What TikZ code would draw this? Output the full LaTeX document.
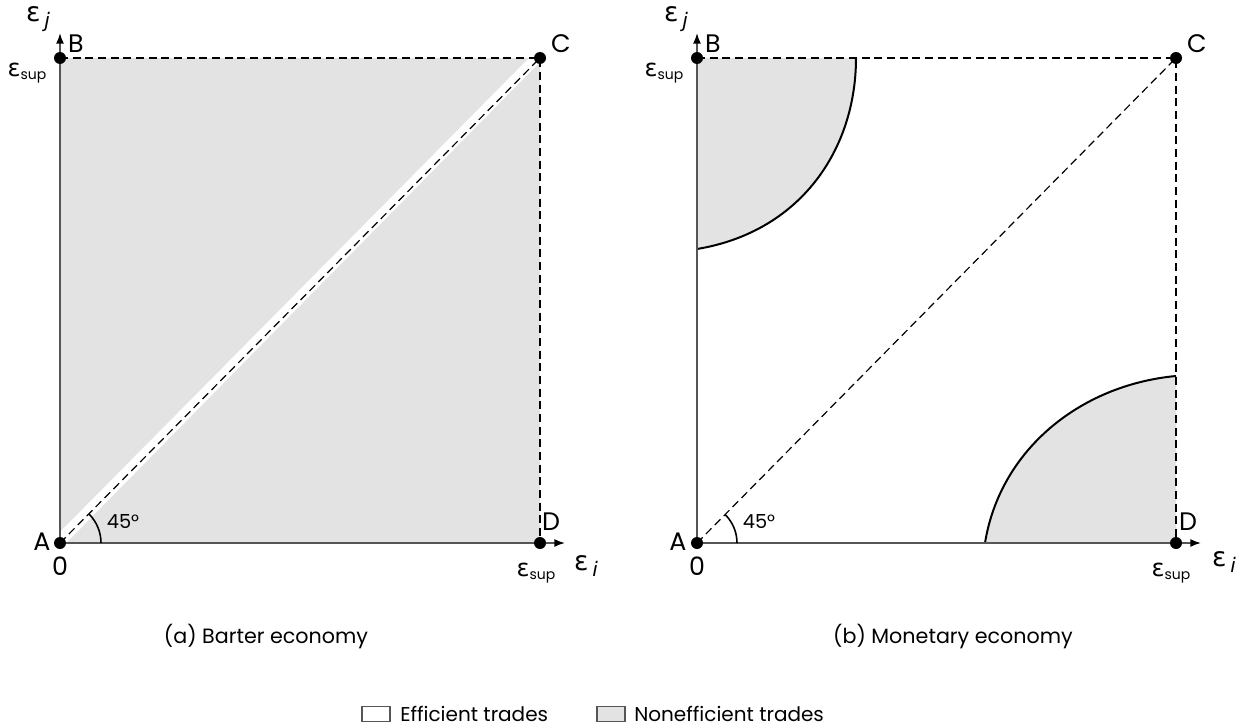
\documentclass[tikz,border=0pt]{standalone}
\usepackage{fontspec}
\setmainfont{Poppins}
\newfontfamily\dv{DejaVu Sans}
\usetikzlibrary{arrows.meta}
\definecolor{lightfill}{HTML}{E3E3E3}
\definecolor{axisgray}{HTML}{555555}
\newcommand\epsax[1]{{\fontsize{20}{20}\selectfont\dv ε}\hspace{3pt}\raisebox{-0.8ex}{\fontsize{15}{15}\selectfont\dv\itshape #1}}
\newcommand\epssup{{\fontsize{18}{18}\selectfont\dv ε}\raisebox{-0.4ex}{\fontsize{10.5}{10.5}\selectfont sup}}
\tikzset{
  axisline/.style={draw=axisgray, line width=1.2pt, -{Latex[length=8pt,width=6pt,color=black]}},
  dashline/.style={draw=black, line width=0.9pt, dash pattern=on 6pt off 3.5pt},
  curveline/.style={draw=black, line width=1.5pt},
  dot/.style={circle, fill=black, inner sep=0pt, minimum size=9pt},
  ptlabel/.style={font=\fontsize{19}{19}\selectfont, inner sep=0pt},
  anglabel/.style={font=\fontsize{14.5}{14.5}\selectfont, inner sep=0pt},
  caption/.style={font=\fontsize{15.5}{15.5}\selectfont, inner sep=0pt},
  legtext/.style={font=\fontsize{15}{15}\selectfont, inner sep=0pt},
  legbox/.style={draw=axisgray, line width=0.8pt, minimum width=21pt, minimum height=11pt, inner sep=0pt},
}
\begin{document}
\begin{tikzpicture}[x=0.75pt, y=-0.75pt]
\useasboundingbox (0,0) rectangle (1247,728);
% ---------- Left panel: barter ----------
\coordinate (A1) at (60,543);
\coordinate (B1) at (60,58);
\coordinate (C1) at (540,58);
\coordinate (D1) at (540,543);
\fill[lightfill] (A1) rectangle (C1);
\fill[white] (60,543) -- (60,532) -- (529,58) -- (540,58) -- (540,62) -- (66,543) -- cycle;
\draw[dashline] (B1) -- (C1) -- (D1);
\draw[dashline] (A1) -- (C1);
\coordinate (Y1) at (60,33);
\coordinate (X1) at (565,543);
\draw[axisline] (A1) -- (Y1);
\draw[axisline] (A1) -- (X1);
\draw[black, line width=1.2pt] (101,543) arc[start angle=0, end angle=-45, radius=41];
\node[anglabel] (ang1) at (123,522) {45°};
\node[dot] (dA1) at (A1) {};
\node[dot] (dB1) at (B1) {};
\node[dot] (dC1) at (C1) {};
\node[dot] (dD1) at (D1) {};
\node[ptlabel] (lA1) at (42,542) {A};
\node[ptlabel] (l01) at (60,566) {0};
\node[ptlabel] (lB1) at (76,44) {B};
\node[ptlabel] (lC1) at (561,44) {C};
\node[ptlabel] (lD1) at (551,522) {D};
\node[inner sep=0pt] (ej1) at (38,19) {\epsax{j}};
\node[inner sep=0pt] (es1) at (27,73) {\epssup};
\node[inner sep=0pt] (es1b) at (536,573) {\epssup};
\node[inner sep=0pt] (ei1) at (586,566) {\epsax{i}};
\node[caption] (cap1) at (266,637) {(a) Barter economy};
% ---------- Right panel: monetary ----------
\coordinate (A2) at (697,543);
\coordinate (B2) at (697,58);
\coordinate (C2) at (1176,58);
\coordinate (D2) at (1176,543);
\fill[lightfill] (B2) -- (856,58) .. controls (856,150) and (800,232) .. (697,249) -- cycle;
\fill[lightfill] (D2) -- (985,543) .. controls (1000,450) and (1080,385) .. (1176,376) -- cycle;
\draw[curveline] (856,58) .. controls (856,150) and (800,232) .. (697,249);
\draw[curveline] (985,543) .. controls (1000,450) and (1080,385) .. (1176,376);
\draw[dashline] (B2) -- (C2) -- (D2);
\draw[dashline] (A2) -- (C2);
\coordinate (Y2) at (697,33);
\coordinate (X2) at (1201,543);
\draw[axisline] (A2) -- (Y2);
\draw[axisline] (A2) -- (X2);
\draw[black, line width=1.2pt] (737,543) arc[start angle=0, end angle=-45, radius=40];
\node[anglabel] (ang2) at (759,522) {45°};
\node[dot] (dA2) at (A2) {};
\node[dot] (dB2) at (B2) {};
\node[dot] (dC2) at (C2) {};
\node[dot] (dD2) at (D2) {};
\node[ptlabel] (lA2) at (678,542) {A};
\node[ptlabel] (l02) at (697,566) {0};
\node[ptlabel] (lB2) at (713,44) {B};
\node[ptlabel] (lC2) at (1197,44) {C};
\node[ptlabel] (lD2) at (1188,522) {D};
\node[inner sep=0pt] (ej2) at (676,19) {\epsax{j}};
\node[inner sep=0pt] (es2) at (664,73) {\epssup};
\node[inner sep=0pt] (es2b) at (1171,573) {\epssup};
\node[inner sep=0pt] (ei2) at (1224,562) {\epsax{i}};
\node[caption] (cap2) at (953,637) {(b) Monetary economy};
% ---------- Legend ----------
\node[legbox, fill=white] (lg1) at (376,714) {};
\node[legtext, anchor=west] (lt1) at (400,714) {Efficient trades};
\node[legbox, fill=lightfill] (lg2) at (611,714) {};
\node[legtext, anchor=west] (lt2) at (634,714) {Nonefficient trades};
\end{tikzpicture}
\end{document}
